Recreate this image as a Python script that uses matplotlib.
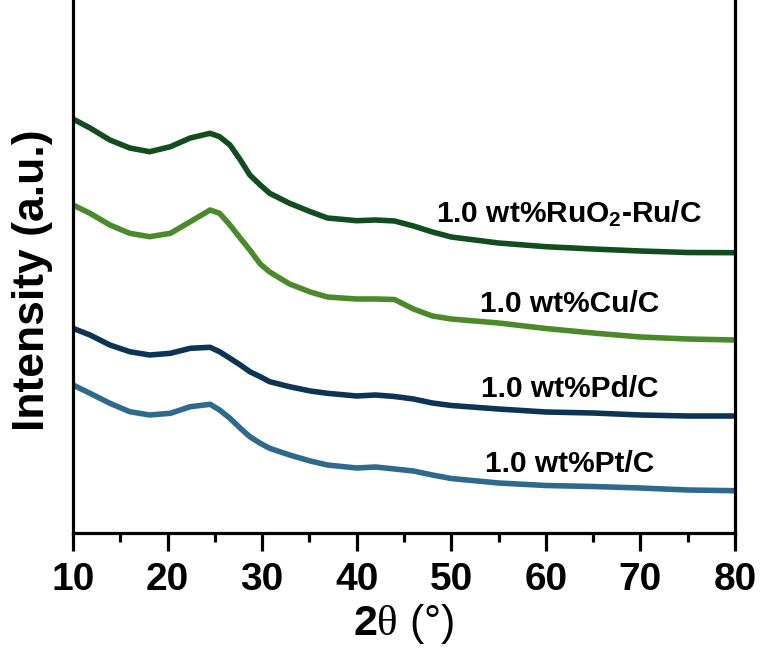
import matplotlib
matplotlib.use("Agg")
import matplotlib.pyplot as plt
from matplotlib import font_manager as fm
from matplotlib.ticker import MultipleLocator, NullLocator

# ---- data (2theta in degrees, intensity in arbitrary units) ----
two_theta = [10, 11.8, 13.9, 16, 18.1, 20.3, 22.4, 24.5, 25.5, 26.6, 27.7, 28.7, 29.8,
             30.8, 32.9, 35.1, 36.9, 40, 42, 44, 46, 48, 50, 55, 60, 65, 70, 75, 80]
ruo2_ru = [414, 405, 393, 385, 381.3, 386.3, 395, 399.7, 396.3, 388, 373, 358, 348,
           339.7, 329.7, 321.3, 315, 312.3, 313, 312, 307, 301, 296, 290, 286.3, 284,
           282, 280.5, 280.3]
cu = [328, 319.7, 308, 299.7, 296.3, 299.7, 311.3, 323, 319.7, 308, 294.7, 283, 269,
      261, 249, 241, 236, 234, 234, 233.5, 224, 217, 214, 210, 204.5, 200, 196, 194, 193]
pd = [204.7, 198, 188, 181.3, 178, 179.7, 184.7, 185.7, 181.3, 174.7, 168, 161.3, 156.3,
      151.3, 146.3, 142, 139.7, 137, 138, 136.5, 134, 130, 127.5, 124, 121, 120, 118,
      117, 117]
pt = [148, 139.7, 129.7, 121.3, 118, 119.7, 126.3, 128.7, 123, 114.7, 104.7, 96.3, 89.7,
      84.7, 78, 72, 68, 65, 66, 64, 62, 58, 54.5, 50, 47.5, 46.5, 45, 43, 42.3]

series_labels = ["1.0 wt%RuO$_\\mathbf{2}$-Ru/C", "1.0 wt%Cu/C", "1.0 wt%Pd/C", "1.0 wt%Pt/C"]
label_pos_x = [62.4, 62.5, 62.5, 62.5]
label_pos_y = [310, 221.3, 136.3, 61.3]
colors = ["#114d1e", "#4b8a2b", "#0c3454", "#2d6a8c"]

def have(name):
    try:
        fm.findfont(fm.FontProperties(family=name), fallback_to_default=False)
        return True
    except Exception:
        return False

narrow = "Liberation Sans Narrow" if have("Liberation Sans Narrow") else "Liberation Sans"
tick_size = 30 if narrow == "Liberation Sans Narrow" else 28

plt.rcParams["mathtext.fontset"] = "custom"
plt.rcParams["mathtext.rm"] = "Liberation Serif"
plt.rcParams["mathtext.bf"] = "Liberation Sans:bold"
plt.rcParams["mathtext.it"] = "Liberation Serif:italic"

fig = plt.figure(figsize=(7.63, 6.64), dpi=100)
ax = fig.add_axes([73 / 763, (664 - 533) / 664, (735 - 73) / 763, 533 / 664])

for y, c in zip([ruo2_ru, cu, pd, pt], colors):
    ax.plot(two_theta, y, color=c, lw=4.0, solid_joinstyle="round",
            solid_capstyle="butt")

for lab, x, y in zip(series_labels, label_pos_x, label_pos_y):
    ax.text(x, y, lab, ha="center", va="baseline", fontsize=21.5, fontweight="bold",
            family="Liberation Sans", color="black")

ax.set_xlim(10, 80)
ax.set_ylim(0, 533)
ax.xaxis.set_major_locator(MultipleLocator(10))
ax.xaxis.set_minor_locator(MultipleLocator(5))
ax.yaxis.set_major_locator(NullLocator())

for s in ["left", "right", "bottom"]:
    ax.spines[s].set_linewidth(2.3)
ax.spines["top"].set_visible(False)

ax.tick_params(axis="x", which="major", direction="out", length=13, width=2.3, pad=8)
ax.tick_params(axis="x", which="minor", direction="out", length=6.5, width=2.3)
for lbl in ax.get_xticklabels():
    lbl.set_fontfamily(narrow)
    lbl.set_fontweight("bold")
    lbl.set_fontsize(tick_size)

ax.set_xlabel("$\\mathbf{2}\\mathrm{\\theta}$ (°)", fontsize=31, family=narrow,
              fontweight="normal", labelpad=3)
ax.set_ylabel("Intensity (a.u.)", fontsize=32, family="Liberation Sans",
              fontweight="bold")
ax.yaxis.set_label_coords(-0.030, 0.475)

fig.savefig("out.png", dpi=100)
